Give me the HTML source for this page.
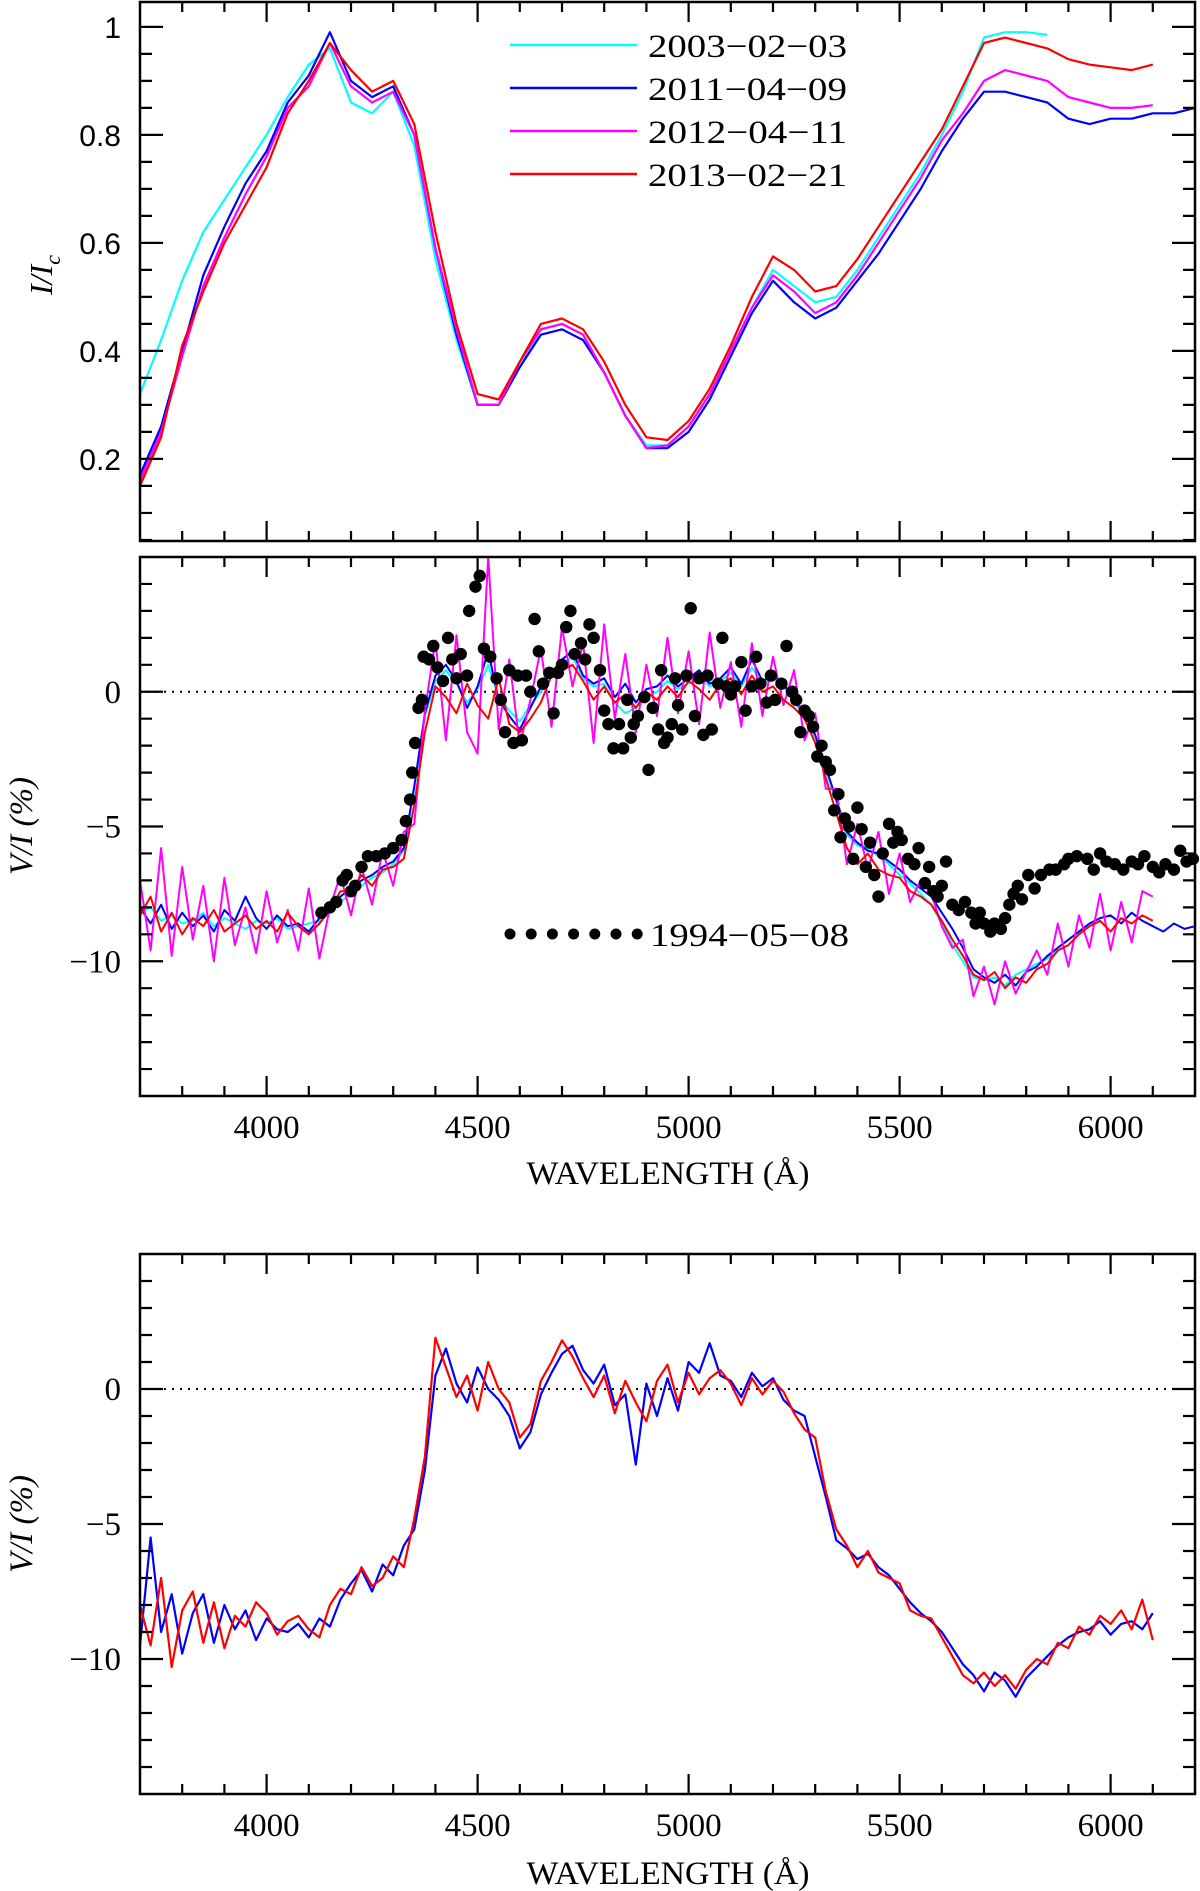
<!DOCTYPE html>
<html><head><meta charset="utf-8"><style>
html,body{margin:0;padding:0;background:#fff;}
svg{display:block;}
</style></head><body>
<svg id="fig" width="1200" height="1891" viewBox="0 0 1200 1891" xmlns="http://www.w3.org/2000/svg">
<g id="layer"></g>
</svg>
<script>
// ---------- data ----------
const topWl = [3700,3750,3800,3850,3900,3950,4000,4050,4100,4150,4200,4250,4300,4350,4400,4450,4500,4550,4600,4650,4700,4750,4800,4850,4900,4950,5000,5050,5100,5150,5200,5250,5300,5350,5400,5450,5500,5550,5600,5650,5700,5750,5800,5850,5900,5950,6000,6050,6100,6150,6200];
const topCyan = [.32,.42,.53,.62,.68,.74,.80,.87,.93,.96,.86,.84,.88,.78,.57,.42,.30,.30,.37,.44,.45,.43,.36,.28,.225,.225,.26,.32,.40,.48,.55,.52,.49,.50,.55,.61,.67,.73,.80,.88,.98,.99,.99,.985,null,null,null,null,null,null,null];
const topBlue = [.17,.26,.40,.54,.63,.71,.77,.86,.91,.99,.90,.87,.89,.80,.59,.43,.30,.30,.37,.43,.44,.42,.36,.28,.22,.22,.25,.31,.39,.47,.53,.49,.46,.48,.53,.58,.64,.70,.77,.83,.88,.88,.87,.86,.83,.82,.83,.83,.84,.84,.85];
const topMagenta = [.16,.25,.39,.52,.61,.69,.76,.85,.89,.97,.89,.86,.88,.80,.59,.44,.30,.30,.38,.44,.45,.43,.36,.28,.22,.225,.26,.32,.40,.48,.54,.51,.47,.49,.54,.60,.66,.72,.79,.84,.90,.92,.91,.90,.87,.86,.85,.85,.855,null,null];
const topRed = [.15,.24,.41,.51,.60,.67,.74,.84,.90,.97,.92,.88,.90,.82,.62,.45,.32,.31,.38,.45,.46,.44,.38,.30,.24,.235,.27,.33,.41,.50,.575,.55,.51,.52,.57,.63,.69,.75,.81,.89,.97,.98,.97,.96,.94,.93,.925,.92,.93,null,null];

const vWl = [3700,3725,3750,3775,3800,3825,3850,3875,3900,3925,3950,3975,4000,4025,4050,4075,4100,4125,4150,4175,4200,4225,4250,4275,4300,4325,4350,4375,4400,4425,4450,4475,4500,4525,4550,4575,4600,4625,4650,4675,4700,4725,4750,4775,4800,4825,4850,4875,4900,4925,4950,4975,5000,5025,5050,5075,5100,5125,5150,5175,5200,5225,5250,5275,5300,5325,5350,5375,5400,5425,5450,5475,5500,5525,5550,5575,5600,5625,5650,5675,5700,5725,5750,5775,5800,5825,5850,5875,5900,5925,5950,5975,6000,6025,6050,6075,6100,6125,6150,6175,6200];
const midCyan = [-8.2,-8.0,-8.5,-8.3,-8.6,-8.5,-8.2,-8.7,-8.4,-8.6,-8.8,-8.5,-8.6,-8.4,-8.8,-8.7,-8.6,-8.5,-8.1,-7.8,-7.5,-7.2,-6.9,-6.7,-6.4,-5.9,-3.6,-0.9,0.4,0.8,0.3,-0.4,0.1,1.0,-0.2,-0.7,-1.1,-0.5,0.0,0.6,1.0,1.3,0.5,0.2,0.3,-0.4,-0.8,-0.6,-0.2,0.0,0.4,0.1,0.3,0.6,0.2,0.4,0.7,0.2,0.9,0.3,0.5,0.2,-0.4,-0.9,-1.7,-2.9,-4.1,-5.3,-5.7,-5.8,-6.1,-6.4,-6.8,-7.1,-7.5,-7.9,-8.6,-9.4,-10.0,-10.6,-10.7,-10.6,-10.9,-10.5,-10.3,-10.1,-9.9,-9.6,null,null,null,null,null,null,null,null,null,null,null,null,null];
const midBlue = [-8.0,-8.6,-7.9,-8.8,-8.2,-8.7,-8.3,-8.9,-8.1,-8.5,-7.6,-8.4,-8.8,-8.3,-8.7,-8.6,-8.9,-8.4,-8.0,-7.6,-7.3,-7.0,-6.8,-6.5,-6.3,-5.8,-3.5,-0.8,0.6,1.0,0.4,-0.6,0.2,1.5,-0.3,-0.9,-1.4,-0.6,0.2,0.7,1.2,1.5,0.6,0.3,0.5,-0.2,0.3,-0.4,0.1,0.2,0.6,0.2,0.5,0.8,0.3,0.5,0.9,0.3,1.2,0.4,0.6,0.3,-0.3,-0.8,-1.6,-2.8,-4.0,-5.2,-5.6,-5.9,-6.0,-6.3,-6.6,-7.0,-7.3,-7.6,-8.2,-8.8,-9.5,-10.3,-10.6,-10.8,-10.5,-10.9,-10.4,-10.2,-9.8,-9.5,-9.2,-8.9,-8.6,-8.4,-8.3,-8.6,-8.2,-8.5,-8.7,-8.9,-8.6,-8.8,-8.7];
const midMagenta = [-7.0,-9.6,-5.8,-9.8,-6.5,-9.2,-7.2,-10.0,-6.9,-9.4,-8.0,-9.7,-7.4,-9.3,-8.1,-9.6,-7.3,-9.9,-8.0,-6.8,-8.3,-6.5,-7.9,-5.9,-7.2,-5.2,-4.9,-0.7,1.9,-1.8,2.1,-1.5,-2.3,5.0,-1.4,1.2,-2.0,-0.3,1.6,-1.3,2.4,0.2,1.8,-1.9,2.5,-1.0,1.4,-1.5,1.0,-0.9,2.0,-0.8,1.5,-1.2,2.2,-0.6,1.1,-1.3,1.8,-0.9,1.3,-0.5,0.8,-1.8,-0.8,-3.6,-3.6,-6.4,-4.9,-6.6,-5.2,-7.5,-6.0,-7.8,-7.0,-7.5,-8.7,-9.5,-9.2,-11.3,-10.2,-11.6,-10.0,-11.2,-10.4,-9.6,-10.5,-8.6,-10.2,-8.3,-9.5,-7.5,-9.6,-7.8,-9.3,-7.4,-7.6,null,null,null,null];
const midRed = [-8.3,-7.6,-8.9,-8.2,-9.0,-8.4,-8.7,-8.1,-8.9,-8.6,-8.3,-8.8,-8.5,-8.9,-8.2,-8.7,-9.0,-8.6,-8.1,-7.4,-7.4,-6.8,-7.2,-6.6,-6.5,-6.2,-4.2,-1.5,0.2,-0.2,-0.8,0.3,-0.5,-1.0,0.5,-1.2,-1.5,-1.0,-0.4,0.6,0.8,1.0,0.4,-0.3,0.2,-0.4,-0.1,-0.6,0.0,-0.3,0.2,-0.2,0.4,0.1,-0.3,0.3,0.5,-0.1,0.6,0.0,0.2,-0.3,-0.6,-1.0,-1.9,-3.2,-4.5,-5.8,-6.4,-6.0,-6.6,-6.8,-6.9,-7.4,-7.6,-7.9,-8.5,-9.2,-9.8,-10.5,-10.7,-10.4,-11.0,-10.6,-10.8,-10.3,-10.1,-9.6,-9.4,-9.0,-8.7,-8.5,-8.9,-8.4,-8.6,-8.3,-8.5,null,null,null,null];

const dotWl = [4130,4150,4165,4180,4190,4200,4210,4225,4240,4260,4280,4300,4320,4330,4340,4345,4352,4360,4368,4372,4385,4395,4405,4418,4430,4440,4450,4460,4475,4480,4495,4505,4515,4530,4545,4555,4565,4575,4585,4595,4605,4615,4625,4635,4645,4655,4670,4680,4690,4700,4710,4720,4730,4745,4755,4765,4775,4790,4800,4810,4822,4835,4845,4855,4863,4870,4880,4895,4905,4915,4928,4935,4942,4950,4960,4968,4975,4985,4995,5005,5015,5025,5035,5045,5055,5070,5080,5090,5100,5110,5125,5135,5150,5160,5170,5185,5195,5205,5220,5232,5245,5255,5265,5275,5285,5295,5305,5315,5325,5335,5345,5355,5360,5370,5380,5390,5400,5410,5420,5430,5440,5450,5460,5475,5485,5495,5505,5520,5535,5545,5560,5570,5580,5590,5600,5610,5625,5640,5655,5670,5680,5690,5700,5715,5725,5740,5750,5760,5770,5780,5790,5805,5820,5835,5855,5870,5890,5900,5920,5945,5960,5975,5990,6010,6030,6050,6065,6080,6100,6115,6130,6150,6165,6180,6195];
const dotV = [-8.2,-8.0,-7.8,-7.0,-6.8,-7.4,-7.2,-6.5,-6.1,-6.1,-6.0,-5.8,-5.5,-4.8,-4.0,-3.0,-1.9,-0.6,-0.3,1.3,1.2,1.7,0.9,0.4,2.0,1.2,0.5,1.4,0.6,3.0,3.9,4.3,1.6,1.3,0.5,-0.3,-1.5,0.8,-1.9,0.6,-1.8,0.6,0.0,2.7,1.5,0.3,0.7,-0.8,0.7,1.0,2.4,3.0,1.4,1.8,1.2,2.5,2.0,0.8,-0.7,-1.2,-2.1,-1.2,-2.1,-0.3,-1.7,-1.2,-0.9,-0.2,-2.9,-0.6,-1.4,0.8,-1.9,-1.7,-1.2,0.5,-0.5,-1.4,0.6,3.1,-0.9,0.5,-1.6,0.6,-1.4,0.3,2.0,0.2,-0.1,0.2,1.1,-0.7,0.2,1.3,0.3,-0.4,0.6,-0.3,0.3,1.7,0.0,-0.3,-1.5,-0.7,-0.9,-1.3,-2.4,-2.0,-2.6,-2.9,-4.4,-3.8,-5.4,-4.7,-5.0,-6.2,-4.3,-5.1,-6.5,-5.6,-6.8,-7.6,-6.0,-4.9,-5.6,-5.2,-5.5,-6.2,-6.4,-5.8,-7.1,-6.5,-7.4,-7.6,-7.2,-6.3,-7.9,-8.1,-7.8,-8.2,-8.6,-8.2,-8.6,-8.9,-8.6,-8.8,-8.4,-7.9,-7.5,-7.2,-7.7,-6.8,-7.3,-6.8,-6.6,-6.6,-6.4,-6.2,-6.1,-6.2,-6.6,-6.0,-6.3,-6.4,-6.6,-6.3,-6.4,-6.1,-6.5,-6.7,-6.4,-6.6,-5.9,-6.3,-6.2];

const botBlue = [-9.5,-5.5,-9.0,-7.6,-9.8,-8.3,-7.6,-9.4,-8.0,-8.9,-8.2,-9.3,-8.5,-8.9,-9.0,-8.7,-9.2,-8.5,-8.8,-7.8,-7.2,-6.7,-7.5,-6.5,-6.9,-5.8,-5.2,-3.0,0.5,1.5,0.2,-0.5,0.8,0.0,-0.4,-1.0,-2.2,-1.6,-0.2,0.6,1.3,1.6,0.7,0.2,0.9,-0.6,-0.2,-2.8,0.2,-1.0,0.4,-0.8,1.0,0.6,1.7,0.5,0.3,-0.3,0.6,0.1,0.4,-0.4,-0.8,-1.0,-2.5,-4.0,-5.6,-5.9,-6.3,-6.1,-6.6,-6.9,-7.4,-7.9,-8.3,-8.6,-9.0,-9.6,-10.2,-10.6,-11.2,-10.5,-10.8,-11.4,-10.7,-10.3,-9.9,-9.5,-9.2,-9.0,-8.9,-8.6,-9.1,-8.7,-8.6,-8.9,-8.3,null,null,null,null];
const botRed = [-8.0,-9.5,-7.0,-10.3,-8.2,-7.5,-9.4,-7.9,-9.6,-8.4,-8.8,-7.9,-8.3,-9.1,-8.6,-8.4,-8.9,-9.2,-8.0,-7.4,-7.6,-6.6,-7.3,-7.0,-6.2,-6.6,-4.8,-2.5,1.9,0.8,-0.3,0.5,-0.8,1.0,0.0,-0.5,-1.8,-1.3,0.3,1.0,1.8,1.2,0.4,-0.3,0.5,-0.9,0.3,-0.5,-1.2,0.3,0.9,-0.5,0.6,-0.2,0.4,0.7,0.2,-0.6,0.4,-0.2,0.3,-0.1,-0.9,-1.5,-1.8,-3.8,-5.2,-5.8,-6.6,-6.0,-6.8,-7.0,-7.2,-8.2,-8.4,-8.5,-9.2,-9.9,-10.6,-10.9,-10.5,-11.0,-10.6,-11.1,-10.4,-10.0,-10.2,-9.4,-9.6,-8.8,-9.1,-8.4,-8.7,-8.2,-8.9,-7.8,-9.3,null,null,null,null];

const xTickLabels = ["4000","4500","5000","5500","6000"];
const topYLabels = ["0.2","0.4","0.6","0.8","1"];
const vYLabels = ["−10","−5","0"];
const legendTop = ["2003-02-03","2011-04-09","2012-04-11","2013-02-21"];
const legendMid = ["1994-05-08"];

// ---------- drawing ----------
const NS = "http://www.w3.org/2000/svg";
const layer = document.getElementById("layer");
const X0 = 140, X1 = 1195, WMIN = 3700, WMAX = 6200;
function xs(w){ return X0 + (w - WMIN) / (WMAX - WMIN) * (X1 - X0); }
function mk(tag, attrs, parent){
  const e = document.createElementNS(NS, tag);
  for (const k in attrs) e.setAttribute(k, attrs[k]);
  (parent || layer).appendChild(e);
  return e;
}
const C = {cyan:"#00ffff", blue:"#0000ff", magenta:"#ff00ff", red:"#ff0000"};

function panel(name, top, bot, vmin, vmax){
  const ys = v => bot - (v - vmin) / (vmax - vmin) * (bot - top);
  const g = mk("g", {});
  
  
  return {g, ys, top, bot};
}

function frame(p, yMinor, yMajor, vmin, vmax){
  const g = p.g;
  const fr = mk("rect", {x:X0, y:p.top, width:X1-X0, height:p.bot-p.top, fill:"none", stroke:"#000", "stroke-width":2.5}, g);
  
  
  let d = "";
  for (let w = 3800; w < WMAX; w += 100){
    const major = w % 500 === 0;
    const L = major ? 20 : 10;
    const x = xs(w);
    d += `M${x},${p.bot}v${-L}M${x},${p.top}v${L}`;
  }
  const start = Math.ceil(vmin / yMinor - 1e-6);
  const end = Math.floor(vmax / yMinor + 1e-6);
  for (let i = start; i <= end; i++){
    const v = i * yMinor;
    const r = v / yMajor;
    const major = Math.abs(r - Math.round(r)) < 1e-6;
    const L = major ? 23 : 12;
    const y = p.ys(v);
    if (y <= p.top + 1 || y >= p.bot - 1) continue;
    d += `M${X0},${y}h${L}M${X1},${y}h${-L}`;
  }
  const t = mk("path", {d, stroke:"#000", "stroke-width":2.2, fill:"none"}, g);
  
  
}

function line(p, wl, vals, color, name, sw){
  let d = "", pen = false;
  for (let i = 0; i < wl.length; i++){
    if (vals[i] === null || vals[i] === undefined){ pen = false; continue; }
    d += (pen ? "L" : "M") + xs(wl[i]).toFixed(1) + "," + p.ys(vals[i]).toFixed(1);
    pen = true;
  }
  const e = mk("path", {d, stroke:color, "stroke-width":sw||2.2, fill:"none", "stroke-linejoin":"round"}, p.g);
  
  
}

function txt(s, x, y, attrs, name){
  const e = mk("text", Object.assign({x, y, fill:"#000"}, attrs));
  e.textContent = s;
  
  
  return e;
}

function zeroLine(p){
  const e = mk("line", {x1:X0, x2:X1, y1:p.ys(0), y2:p.ys(0), stroke:"#000", "stroke-width":2, "stroke-dasharray":"2,6"}, p.g);
  
  
}

const serif = {"font-family":"'Liberation Serif', serif", "font-size":33};
const sans = {"font-family":"'Liberation Sans', sans-serif", "font-size":30};

// top panel
const P1 = panel("intensity-panel", 2, 541, 0.048, 1.046);
const top1 = [topCyan, topBlue, topMagenta, topRed];
const cols = [C.cyan, C.blue, C.magenta, C.red];
top1.forEach((s,i)=> line(P1, topWl, s, cols[i], "intensity-line-"+legendTop[i]));
frame(P1, 0.05, 0.2, 0.048, 1.046);
topYLabels.forEach(l => txt(l, 121, P1.ys(parseFloat(l)) + 11, Object.assign({"text-anchor":"end"}, sans), "y-tick-label"));
const yt1 = txt("", 0, 0, {"font-family":"'Liberation Serif', serif", "font-size":32, "font-style":"italic", transform:"translate(52,275) rotate(-90)", "text-anchor":"middle"}, "y-axis-title-intensity");
yt1.innerHTML = 'I/I<tspan dy="8" font-size="22">c</tspan>';
legendTop.forEach((l,i)=>{
  const y = 45 + i*43;
  const ln = mk("line", {x1:510, x2:637, y1:y, y2:y, stroke:cols[i], "stroke-width":2.5});
  
  
  txt(l.replace(/-/g,"−"), 648, y + 12, Object.assign({textLength:199, lengthAdjust:"spacingAndGlyphs"}, serif), "legend-entry");
});

// middle panel
const P2 = panel("circular-polarization-panel", 557, 1096, -15, 5);
zeroLine(P2);
[midCyan, midBlue, midMagenta, midRed].forEach((s,i)=> line(P2, vWl, s, cols[i], "vi-line-"+legendTop[i], 2));
dotWl.forEach((w,i)=>{
  const c = mk("circle", {cx:xs(w), cy:P2.ys(dotV[i]), r:6.2, fill:"#000"}, P2.g);
  
  
});
frame(P2, 1, 5, -15, 5);
vYLabels.forEach(l => txt(l, 121, P2.ys(parseFloat(l.replace("−","-"))) + 11, Object.assign({"text-anchor":"end"}, serif), "y-tick-label"));
xTickLabels.forEach(l => txt(l, xs(+l), 1138, Object.assign({"text-anchor":"middle"}, serif), "x-tick-label"));
txt("WAVELENGTH (Å)", 668, 1184, Object.assign({"text-anchor":"middle", textLength:283, lengthAdjust:"spacingAndGlyphs"}, serif), "x-axis-title");
txt("V/I (%)", 0, 0, Object.assign({transform:"translate(32,826) rotate(-90)", "text-anchor":"middle", "font-style":"italic"}, serif), "y-axis-title-vi");
for (let i = 0; i < 7; i++){
  const c = mk("circle", {cx:510 + i*21.2, cy:934, r:5.5, fill:"#000"});
  
  
}
txt(legendMid[0].replace(/-/g,"−"), 650, 946, Object.assign({textLength:199, lengthAdjust:"spacingAndGlyphs"}, serif), "legend-entry");

// bottom panel
const P3 = panel("bottom-vi-panel", 1254, 1794, -15, 5);
zeroLine(P3);
line(P3, vWl, botBlue, C.blue, "bottom-vi-blue", 2.2);
line(P3, vWl, botRed, C.red, "bottom-vi-red", 2.2);
frame(P3, 1, 5, -15, 5);
vYLabels.forEach(l => txt(l, 121, P3.ys(parseFloat(l.replace("−","-"))) + 11, Object.assign({"text-anchor":"end"}, serif), "y-tick-label"));
xTickLabels.forEach(l => txt(l, xs(+l), 1836, Object.assign({"text-anchor":"middle"}, serif), "x-tick-label"));
txt("WAVELENGTH (Å)", 668, 1884, Object.assign({"text-anchor":"middle", textLength:283, lengthAdjust:"spacingAndGlyphs"}, serif), "x-axis-title");
txt("V/I (%)", 0, 0, Object.assign({transform:"translate(32,1524) rotate(-90)", "text-anchor":"middle", "font-style":"italic"}, serif), "y-axis-title-vi");
</script>
</body></html>
